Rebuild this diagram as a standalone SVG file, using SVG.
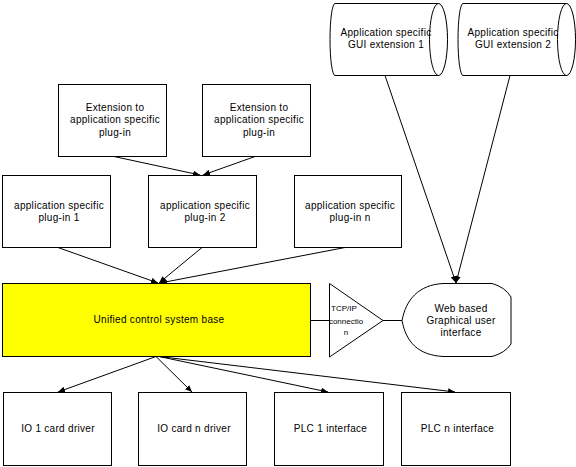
<svg xmlns="http://www.w3.org/2000/svg" width="576" height="467" viewBox="0 0 576 467">
<style>
.box{fill:#fff;stroke:#000;stroke-width:1}
.yel{fill:#FFFF00;stroke:#000;stroke-width:1}
.t{font-family:"Liberation Sans",Arial,sans-serif;font-size:10px;letter-spacing:0.3px;text-anchor:middle;fill:#000}
.s{font-family:"Liberation Sans",Arial,sans-serif;font-size:8px;text-anchor:middle;fill:#000}
.c line,.c path{stroke:#000;stroke-width:1;fill:none}
</style>
<defs>
<marker id="a" markerUnits="userSpaceOnUse" markerWidth="8" markerHeight="6" refX="7" refY="3" orient="auto">
<path d="M0,0 L7,3 L0,6 Z" fill="#000"/>
</marker>
</defs>
<rect width="576" height="467" fill="#fff"/>
<g class="c" id="connectors">
<line x1="114" y1="156.5" x2="200" y2="175" marker-end="url(#a)"/>
<line x1="255" y1="156.5" x2="203" y2="175" marker-end="url(#a)"/>
<line x1="58" y1="247.5" x2="158" y2="283" marker-end="url(#a)"/>
<line x1="202" y1="247.5" x2="159" y2="283" marker-end="url(#a)"/>
<line x1="345" y1="247.5" x2="160" y2="283" marker-end="url(#a)"/>
<line x1="385" y1="75.5" x2="456" y2="283" marker-end="url(#a)"/>
<line x1="510" y1="75.5" x2="456" y2="283" marker-end="url(#a)"/>
<line x1="156" y1="356.5" x2="58" y2="392" marker-end="url(#a)"/>
<line x1="156" y1="356.5" x2="192" y2="392" marker-end="url(#a)"/>
<line x1="159" y1="356.5" x2="328" y2="392" marker-end="url(#a)"/>
<line x1="159" y1="356.5" x2="455" y2="392" marker-end="url(#a)"/>
<line x1="311" y1="320.5" x2="329" y2="320.5"/>
<line x1="383" y1="320.5" x2="402" y2="320.5"/>
</g>
<g id="gui1">
<path class="box" d="M335,3.5 L438,3.5 A9,36 0 0 1 438,75.5 L335,75.5 A5,36 0 0 1 335,3.5 Z"/>
<ellipse class="box" cx="438.5" cy="39.5" rx="9" ry="36"/>
<text class="t" x="386" y="35.5">Application specific</text>
<text class="t" x="386" y="47.5">GUI extension 1</text>
</g>
<g id="gui2">
<path class="box" d="M463,3.5 L566,3.5 A9,36 0 0 1 566,75.5 L463,75.5 A5,36 0 0 1 463,3.5 Z"/>
<ellipse class="box" cx="566.5" cy="39.5" rx="9" ry="36"/>
<text class="t" x="513" y="35.5">Application specific</text>
<text class="t" x="513" y="47.5">GUI extension 2</text>
</g>
<g id="ext1">
<rect class="box" x="58.5" y="84.5" width="108" height="72"/>
<text class="t" x="115" y="110.5">Extension to</text>
<text class="t" x="115" y="123">application specific</text>
<text class="t" x="115" y="135.5">plug-in</text>
</g>
<g id="ext2">
<rect class="box" x="202.5" y="84.5" width="108" height="72"/>
<text class="t" x="259" y="110.5">Extension to</text>
<text class="t" x="259" y="123">application specific</text>
<text class="t" x="259" y="135.5">plug-in</text>
</g>
<g id="plugin1">
<rect class="box" x="2.5" y="175.5" width="108" height="72"/>
<text class="t" x="59" y="208.5">application specific</text>
<text class="t" x="59" y="220.5">plug-in 1</text>
</g>
<g id="plugin2">
<rect class="box" x="148.5" y="175.5" width="108" height="72"/>
<text class="t" x="205" y="208.5">application specific</text>
<text class="t" x="205" y="220.5">plug-in 2</text>
</g>
<g id="pluginn">
<rect class="box" x="294.5" y="175.5" width="107" height="72"/>
<text class="t" x="350" y="208.5">application specific</text>
<text class="t" x="350" y="220.5">plug-in n</text>
</g>
<g id="base">
<rect class="yel" x="2.5" y="283.5" width="308" height="73"/>
<text class="t" x="159" y="322.5">Unified control system base</text>
</g>
<g id="tcp">
<path class="box" d="M329.5,283.5 L383,320.5 L329.5,357 Z"/>
<text class="s" x="344" y="311">TCP/IP</text>
<text class="s" x="346" y="323.5">connectio</text>
<text class="s" x="346" y="334.5">n</text>
</g>
<g id="webgui">
<path class="box" d="M402,320.5 C406,300 418,285 443,283.5 L492,283.5 Q505,287 511,297 L511,344 Q505,353 492,356.5 L443,356.5 C418,355 406,342 402,320.5 Z"/>
<text class="t" x="461" y="311.5">Web based</text>
<text class="t" x="461" y="324">Graphical user</text>
<text class="t" x="461" y="335.5">interface</text>
</g>
<g id="io1">
<rect class="box" x="3.5" y="392.5" width="108" height="73"/>
<text class="t" x="58" y="432">IO 1 card driver</text>
</g>
<g id="ion">
<rect class="box" x="138.5" y="392.5" width="108" height="73"/>
<text class="t" x="194" y="432">IO card n driver</text>
</g>
<g id="plc1">
<rect class="box" x="274.5" y="392.5" width="109" height="73"/>
<text class="t" x="330.5" y="432">PLC 1 interface</text>
</g>
<g id="plcn">
<rect class="box" x="401.5" y="392.5" width="109" height="73"/>
<text class="t" x="457.5" y="432">PLC n interface</text>
</g>
</svg>
